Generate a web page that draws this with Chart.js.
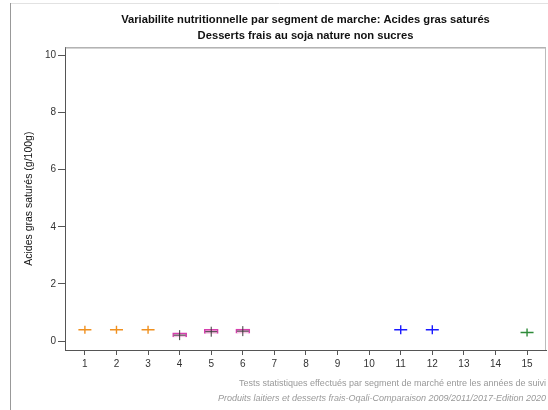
<!DOCTYPE html>
<html>
<head>
<meta charset="utf-8">
<script src="https://cdn.jsdelivr.net/npm/chart.js@4"></script>
<style>
  html, body { margin: 0; padding: 0; background: #fff; }
  #wrap { width: 548px; height: 410px; }
</style>
</head>
<body>
<div id="wrap"><canvas id="chart" width="548" height="410"></canvas></div>
<script>
// segments 1..15, values in g/100g (null = no product)
const categories = [1, 2, 3, 4, 5, 6, 7, 8, 9, 10, 11, 12, 13, 14, 15];
const meanValues = [0.4, 0.4, 0.4, 0.21, 0.33, 0.35, null, null, null, null, 0.4, 0.4, null, null, 0.3];
const boxLow = [null, null, null, 0.14, 0.26, 0.27, null, null, null, null, null, null, null, null, null];
const boxHigh = [null, null, null, 0.29, 0.41, 0.42, null, null, null, null, null, null, null, null, null];
const segmentGroup = ['a', 'a', 'a', 'b', 'b', 'b', '', '', '', '', 'c', 'c', '', '', 'd'];
const yTicks = [0, 2, 4, 6, 8, 10];

const groupColor = { a: '#f0901e', b: '#3a3a3a', c: '#1a1aff', d: '#2e8b3a' };

const pts = [];
categories.forEach((c, i) => {
    if (meanValues[i] !== null) pts.push({ x: c, y: meanValues[i], g: segmentGroup[i] });
});
const boxes = [];
categories.forEach((c, i) => {
    if (boxLow[i] !== null) boxes.push({ x: c, y: [boxLow[i], boxHigh[i]] });
});

const framePlugin = {
    id: 'frame',
    beforeDraw(chart) {
        const ctx = chart.ctx;
        ctx.save();
        ctx.fillStyle = '#fff';
        ctx.fillRect(0, 0, chart.width, chart.height);
        ctx.strokeStyle = '#e2e2e2';
        ctx.lineWidth = 1;
        ctx.beginPath();
        ctx.moveTo(11, 3.5);
        ctx.lineTo(chart.width, 3.5);
        ctx.stroke();
        ctx.strokeStyle = '#999';
        ctx.beginPath();
        ctx.moveTo(10.5, 3);
        ctx.lineTo(10.5, chart.height);
        ctx.stroke();
        ctx.restore();
    },
    afterDraw(chart) {
        const ctx = chart.ctx;
        const a = chart.chartArea;
        ctx.save();
        ctx.lineWidth = 1;
        ctx.strokeStyle = '#888';
        ctx.beginPath();
        ctx.moveTo(a.left, a.top + 0.5);
        ctx.lineTo(a.right, a.top + 0.5);
        ctx.stroke();
        ctx.strokeStyle = '#bbb';
        ctx.beginPath();
        ctx.moveTo(a.right - 0.5, a.top);
        ctx.lineTo(a.right - 0.5, a.bottom);
        ctx.stroke();
        // footnotes
        ctx.fillStyle = '#999';
        ctx.textAlign = 'right';
        ctx.textBaseline = 'middle';
        ctx.font = '9px "Liberation Sans", Arial, sans-serif';
        ctx.fillText('Tests statistiques effectués par segment de marché entre les années de suivi', a.right, 384);
        ctx.font = 'italic 9px "Liberation Sans", Arial, sans-serif';
        ctx.fillText('Produits laitiers et desserts frais-Oqali-Comparaison 2009/2011/2017-Edition 2020', a.right, 398);
        ctx.restore();
    }
};

const ctx = document.getElementById('chart').getContext('2d');
new Chart(ctx, {
    type: 'scatter',
    data: {
        datasets: [
            {
                type: 'bar',
                data: boxes,
                backgroundColor: '#f9c4e6',
                borderColor: '#d63fae',
                borderWidth: 1.5,
                barThickness: 14,
                order: 3
            },
            {
                // horizontal stroke of each marker
                data: pts,
                pointStyle: 'line',
                pointRadius: pts.map(p => p.g === 'b' ? 6 : 6.5),
                pointBorderWidth: pts.map(p => p.g === 'b' ? 1 : 1.4),
                pointBorderColor: pts.map(p => groupColor[p.g]),
                order: 1
            },
            {
                // vertical stroke of each marker
                data: pts,
                pointStyle: 'line',
                pointRotation: 90,
                pointRadius: pts.map(p => p.g === 'c' ? 4.5 : p.g === 'b' ? 5 : 4),
                pointBorderWidth: pts.map(p => p.g === 'b' ? 1 : 1.4),
                pointBorderColor: pts.map(p => groupColor[p.g]),
                order: 2
            }
        ]
    },
    options: {
        responsive: false,
        animation: false,
        layout: { autoPadding: false, padding: { left: 0, right: 2, top: 0, bottom: 35 } },
        plugins: {
            legend: { display: false },
            tooltip: { enabled: false },
            title: {
                display: true,
                fullSize: false,
                text: ['Variabilite nutritionnelle par segment de marche: Acides gras saturés',
                       'Desserts frais au soja nature non sucres'],
                color: '#111',
                font: { family: '"Liberation Sans", Arial, sans-serif', size: 11.2, weight: 'bold', lineHeight: 1.4 },
                padding: { top: 12, bottom: 4 }
            }
        },
        scales: {
            x: {
                type: 'linear',
                offset: false,
                min: 0.37,
                max: 15.6,
                afterBuildTicks: s => { s.ticks = categories.map(v => ({ value: v })); },
                afterFit: s => { s.height = 25; s.paddingLeft = 0; s.paddingRight = 0; },
                grid: { offset: false, drawOnChartArea: false, drawTicks: true, tickLength: 5, color: '#555' },
                border: { display: true, color: '#555', width: 1 },
                ticks: { color: '#333', padding: 3, font: { family: '"Liberation Sans", Arial, sans-serif', size: 10 } }
            },
            y: {
                min: -0.31,
                max: 10.28,
                afterBuildTicks: s => { s.ticks = yTicks.map(v => ({ value: v })); },
                afterFit: s => { s.width = 65; s.paddingTop = 0; s.paddingBottom = 0; },
                grid: { drawOnChartArea: false, drawTicks: true, tickLength: 7, color: '#555' },
                border: { display: true, color: '#555', width: 1 },
                ticks: { color: '#333', padding: 2, font: { family: '"Liberation Sans", Arial, sans-serif', size: 10 } },
                title: {
                    display: true,
                    text: 'Acides gras saturés (g/100g)',
                    color: '#111',
                    font: { family: '"Liberation Sans", Arial, sans-serif', size: 10.5 },
                    padding: { top: 23, bottom: 0 }
                }
            }
        }
    },
    plugins: [framePlugin]
});
</script>
</body>
</html>
